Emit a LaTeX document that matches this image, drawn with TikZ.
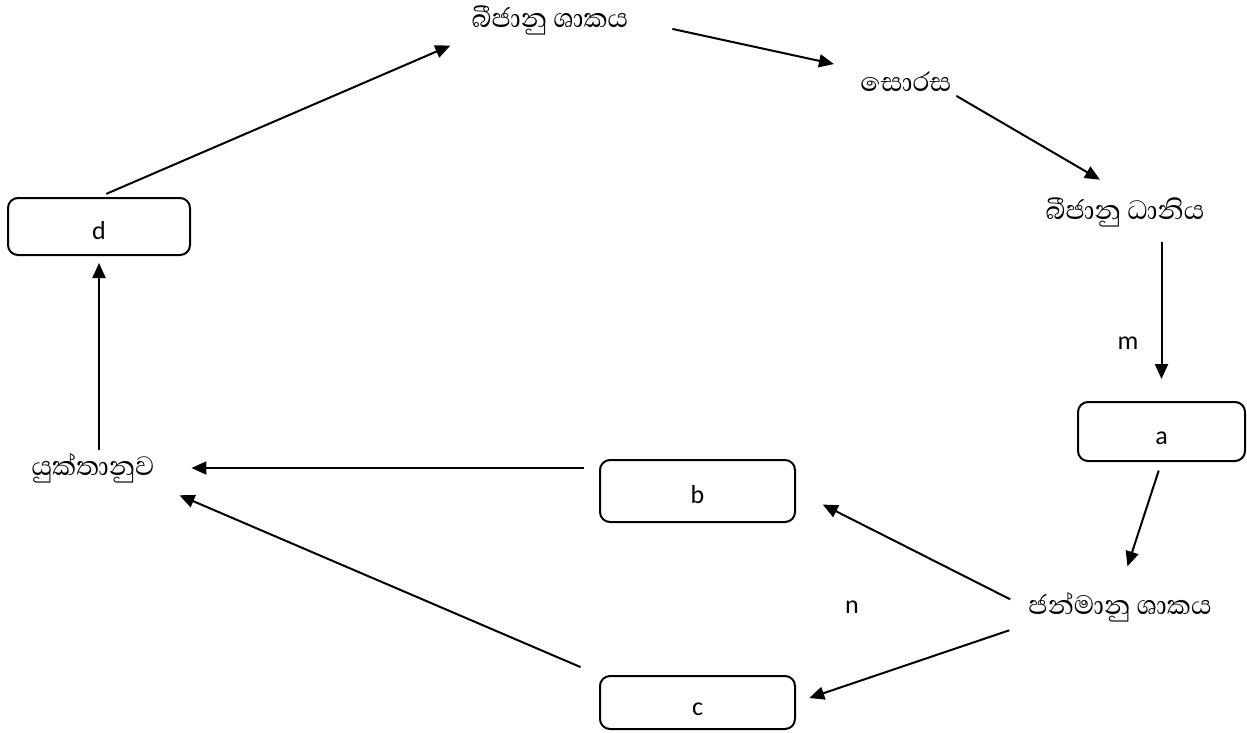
\documentclass[tikz,border=0pt]{standalone}
\usepackage{fontspec}
\setmainfont{Carlito}
\newfontfamily\sinhala[Script=Sinhala]{Abhaya Libre}
\usetikzlibrary{arrows.meta}
\begin{document}
\begin{tikzpicture}[x=1pt, y=-1pt, line width=2pt, >={Triangle[length=15pt, width=13pt]},
    stage/.style={font=\sinhala\fontsize{34}{38}\selectfont, inner sep=2pt},
    blank box/.style={draw, rounded corners=10pt, font=\fontsize{26}{30}\selectfont, text height=25pt, text depth=0pt, inner sep=0pt},
    mark label/.style={font=\fontsize{26}{30}\selectfont}]

                \useasboundingbox (0,0) rectangle (1247,732);

                \node[stage] at (550, 20) (sporo) {බීජානු ශාකය};
                \node[stage] at (906, 82) (sorus) {සොරස};
                \node[stage] at (1125, 212) (sporang) {බීජානු ධානිය};
                \node[stage] at (1120, 607) (gameto) {ජන්මානු ශාකය};
                \node[stage] at (93, 468) (zygote) {යුක්තානුව};

                \node[blank box, minimum width=182, minimum height=57] at (99, 226.5) (d) {d};
                \node[blank box, minimum width=167, minimum height=59] at (1161.5, 431.5) (a) {a};
                \node[blank box, minimum width=195, minimum height=62] at (697.5, 491) (b) {b};
                \node[blank box, minimum width=195, minimum height=53] at (697.5, 702.5) (c) {c};

                \node[mark label] at (1128, 343) (m) {m};
                \node[mark label] at (852, 607) (n) {n};

                \path[->] (d.north) edge[shorten <=8pt, shorten >=20pt] (sporo.south west);
                \path[->] (sporo.east) edge[shorten <=42pt, shorten >=24pt] (sorus.north west);
                \path[->] (sorus.south east) edge[shorten <=2pt, shorten >=29pt] (sporang.north);
                \path[->] (sporang.south -| a) edge[shorten <=12pt, shorten >=22pt] (a.north);
                \path[->] (a.south) edge[shorten <=9pt, shorten >=24pt] (gameto.north);

                \path[->] (gameto.west) edge[shorten <=17pt, shorten >=30pt] (b.east);
                \path[->] (gameto.south west) edge[shorten <=17pt, shorten >=14pt] (c.east);

                \path[->] (zygote.east -| b.west) edge[shorten <=15pt, shorten >=34pt] (zygote.east);
                \path[->] (c.north west) edge[shorten <=20pt, shorten >=24pt] (zygote.south east);
                \path[->] (zygote.north -| d) edge[shorten >=7pt] (d.south);

            \end{tikzpicture}
\end{document}
